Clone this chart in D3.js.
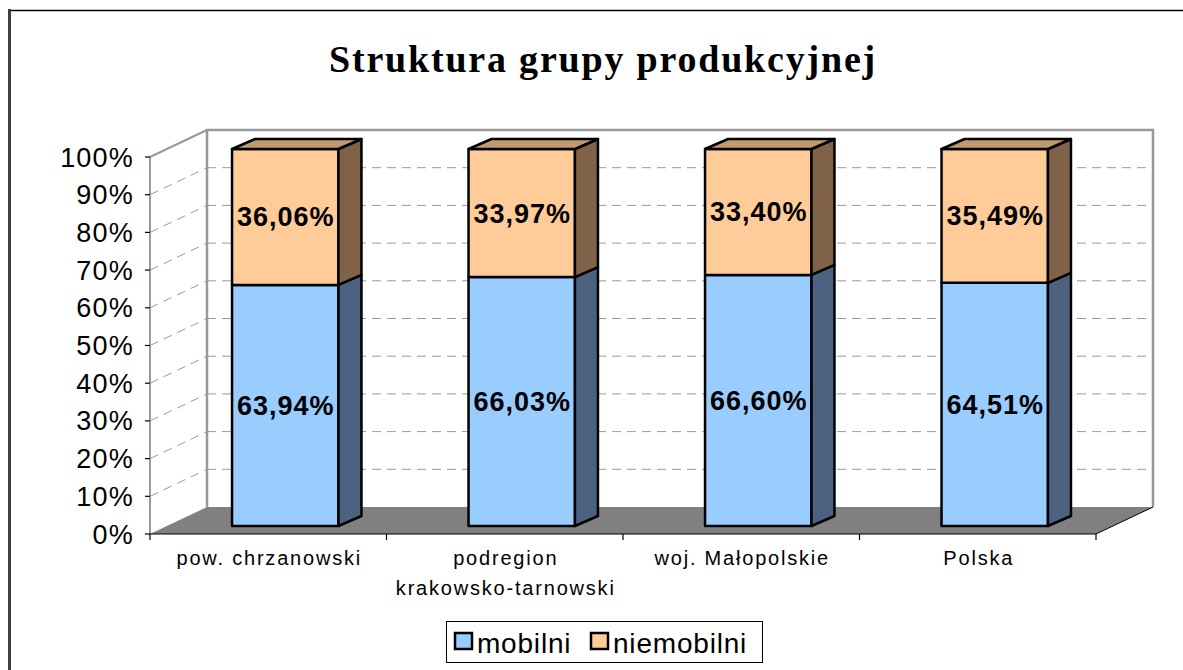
<!DOCTYPE html>
<html><head><meta charset="utf-8">
<script src="https://cdn.jsdelivr.net/npm/d3@7"></script>
<style>body{margin:0;background:#fff}svg{display:block}</style>
</head><body>
<svg id="c" width="1183" height="670"></svg>
<script>
const title = "Struktura grupy produkcyjnej";
const categories = [["pow. chrzanowski"], ["podregion", "krakowsko-tarnowski"], ["woj. Małopolskie"], ["Polska"]];
const seriesNames = ["mobilni", "niemobilni"];
const mobilni = [63.94, 66.03, 66.60, 64.51];
const niemobilni = [36.06, 33.97, 33.40, 35.49];
const yTicks = [0, 10, 20, 30, 40, 50, 60, 70, 80, 90, 100];

const svg = d3.select("#c");
const W = 1183, H = 670;
// 3D geometry
const wallDX = 57, wallDY = -27;     // depth of back wall
const barSX = 17, barSY = -8;        // bar front offset from front plane
const barDX = 23, barDY = -10;       // bar depth
const x0 = 150, x1 = 1096;

const y = d3.scaleLinear().domain([0, 100]).range([534, 157]);
const x = d3.scaleBand().domain(d3.range(categories.length)).range([x0, x1]);
const barW = x.bandwidth() * 0.45;

const colors = {
  mobilni: {front: "#99CCFF", side: "#4D6280", top: "#7A9ECC"},
  niemobilni: {front: "#FFCC99", side: "#806248", top: "#C09A70"}
};

// outer frame
svg.append("line").attr("x1", 8).attr("x2", W).attr("y1", 10.5).attr("y2", 10.5).attr("stroke", "#000").attr("stroke-width", 1.5);
svg.append("line").attr("x1", 9.5).attr("x2", 9.5).attr("y1", 9).attr("y2", H).attr("stroke", "#404040").attr("stroke-width", 3);

// title
svg.append("text").attr("x", 603).attr("y", 72).attr("text-anchor", "middle")
  .attr("font-family", "Liberation Serif, Times New Roman, serif").attr("font-weight", "bold")
  .attr("font-size", 38).attr("letter-spacing", 1.8).text(title);

const g = svg.append("g");

// floor
const yb = y(0);
g.append("polygon")
  .attr("points", [[x0, yb], [x1, yb], [x1 + wallDX, yb + wallDY], [x0 + wallDX, yb + wallDY]].map(p => p.join(",")).join(" "))
  .attr("fill", "#808080");

// gridlines back wall and side wall
const grid = yTicks.filter(v => v > 0 && v < 100);
g.selectAll(".gb").data(grid).join("line")
  .attr("x1", x0 + wallDX).attr("x2", x1 + wallDX)
  .attr("y1", d => y(d) + wallDY).attr("y2", d => y(d) + wallDY)
  .attr("stroke", "#9a9a9a").attr("stroke-width", 1).attr("stroke-dasharray", "9,6");
g.selectAll(".gs").data(grid).join("line")
  .attr("x1", x0).attr("x2", x0 + wallDX)
  .attr("y1", d => y(d)).attr("y2", d => y(d) + wallDY)
  .attr("stroke", "#9a9a9a").attr("stroke-width", 1).attr("stroke-dasharray", "9,6");

// walls borders
g.append("path")
  .attr("d", `M${x0 + wallDX},${y(0) + wallDY}V${y(100) + wallDY}H${x1 + wallDX}V${y(0) + wallDY}`)
  .attr("fill", "none").attr("stroke", "#999").attr("stroke-width", 2.5);
g.append("path")
  .attr("d", `M${x0},${y(0)}V${y(100)}L${x0 + wallDX},${y(100) + wallDY}`)
  .attr("fill", "none").attr("stroke", "#999").attr("stroke-width", 2);

// floor front edge, right edge
g.append("line").attr("x1", x0).attr("x2", x1).attr("y1", yb).attr("y2", yb).attr("stroke", "#000").attr("stroke-width", 1.2);
g.append("line").attr("x1", x1).attr("x2", x1 + wallDX).attr("y1", yb).attr("y2", yb + wallDY).attr("stroke", "#000").attr("stroke-width", 1);

// y ticks
g.selectAll(".yt").data(yTicks).join("line")
  .attr("x1", x0 - 5).attr("x2", x0).attr("y1", d => y(d)).attr("y2", d => y(d))
  .attr("stroke", "#000").attr("stroke-width", 1.2);
g.selectAll(".yl").data(yTicks).join("text")
  .attr("x", 134).attr("y", d => y(d) + 9.5).attr("text-anchor", "end")
  .attr("font-family", "Liberation Sans, Arial, sans-serif").attr("font-size", 27).attr("letter-spacing", 1.2)
  .text(d => d + "%");

// x ticks
const xt = d3.range(categories.length + 1).map(i => x0 + i * x.step());
g.selectAll(".xt").data(xt).join("line")
  .attr("x1", d => d).attr("x2", d => d).attr("y1", yb).attr("y2", yb + 6)
  .attr("stroke", "#000").attr("stroke-width", 1.2);
// x labels
categories.forEach((lines, i) => {
  const cx = x(i) + x.bandwidth() / 2;
  lines.forEach((ln, j) => {
    g.append("text").attr("x", cx + 1).attr("y", 565 + j * 30).attr("text-anchor", "middle")
      .attr("font-family", "Liberation Sans, Arial, sans-serif").attr("font-size", 20).attr("letter-spacing", 1.8)
      .text(ln);
  });
});

// bars
const fmt = v => d3.format(".2f")(v).replace(".", ",") + "%";
const stacks = categories.map((c, i) => {
  const m = mobilni[i], n = niemobilni[i];
  return [{s: "mobilni", v0: 0, v1: m, v: m, i}, {s: "niemobilni", v0: m, v1: m + n, v: n, i}];
});
const poly = pts => pts.map(p => p.join(",")).join(" ");
stacks.forEach(stack => {
  stack.forEach((seg, k) => {
    const c = colors[seg.s];
    const bx0 = x(seg.i) + (x.bandwidth() - barW) / 2 + barSX, bx1 = bx0 + barW;
    const yt = y(seg.v1) + barSY, ybot = y(seg.v0) + barSY;
    const bg = g.append("g").attr("stroke", "#000").attr("stroke-width", 2.5).attr("stroke-linejoin", "round");
    bg.append("polygon").attr("points", poly([[bx0, ybot], [bx1, ybot], [bx1, yt], [bx0, yt]])).attr("fill", c.front);
    bg.append("polygon").attr("points", poly([[bx1, ybot], [bx1 + barDX, ybot + barDY], [bx1 + barDX, yt + barDY], [bx1, yt]])).attr("fill", c.side);
    if (k === stack.length - 1)
      bg.append("polygon").attr("points", poly([[bx0, yt], [bx0 + barDX, yt + barDY], [bx1 + barDX, yt + barDY], [bx1, yt]])).attr("fill", c.top);
    g.append("text").attr("x", (bx0 + bx1) / 2 + 0.5).attr("y", (yt + ybot) / 2 + 9.5).attr("text-anchor", "middle")
      .attr("font-family", "Liberation Sans, Arial, sans-serif").attr("font-weight", "bold").attr("font-size", 27).attr("letter-spacing", 1)
      .text(fmt(seg.v));
  });
});

// legend
const lg = svg.append("g");
lg.append("rect").attr("x", 446.5).attr("y", 621.5).attr("width", 316).attr("height", 41).attr("fill", "#fff").attr("stroke", "#000").attr("stroke-width", 1);
const legX = [455, 591];
seriesNames.forEach((s, i) => {
  lg.append("rect").attr("x", legX[i]).attr("y", 633).attr("width", 17).attr("height", 16)
    .attr("fill", colors[s].front).attr("stroke", "#000").attr("stroke-width", 2.5);
  lg.append("text").attr("x", legX[i] + 22).attr("y", 653).attr("font-family", "Liberation Sans, Arial, sans-serif")
    .attr("font-size", 28).attr("letter-spacing", 0.8).text(s);
});
</script>
</body></html>
